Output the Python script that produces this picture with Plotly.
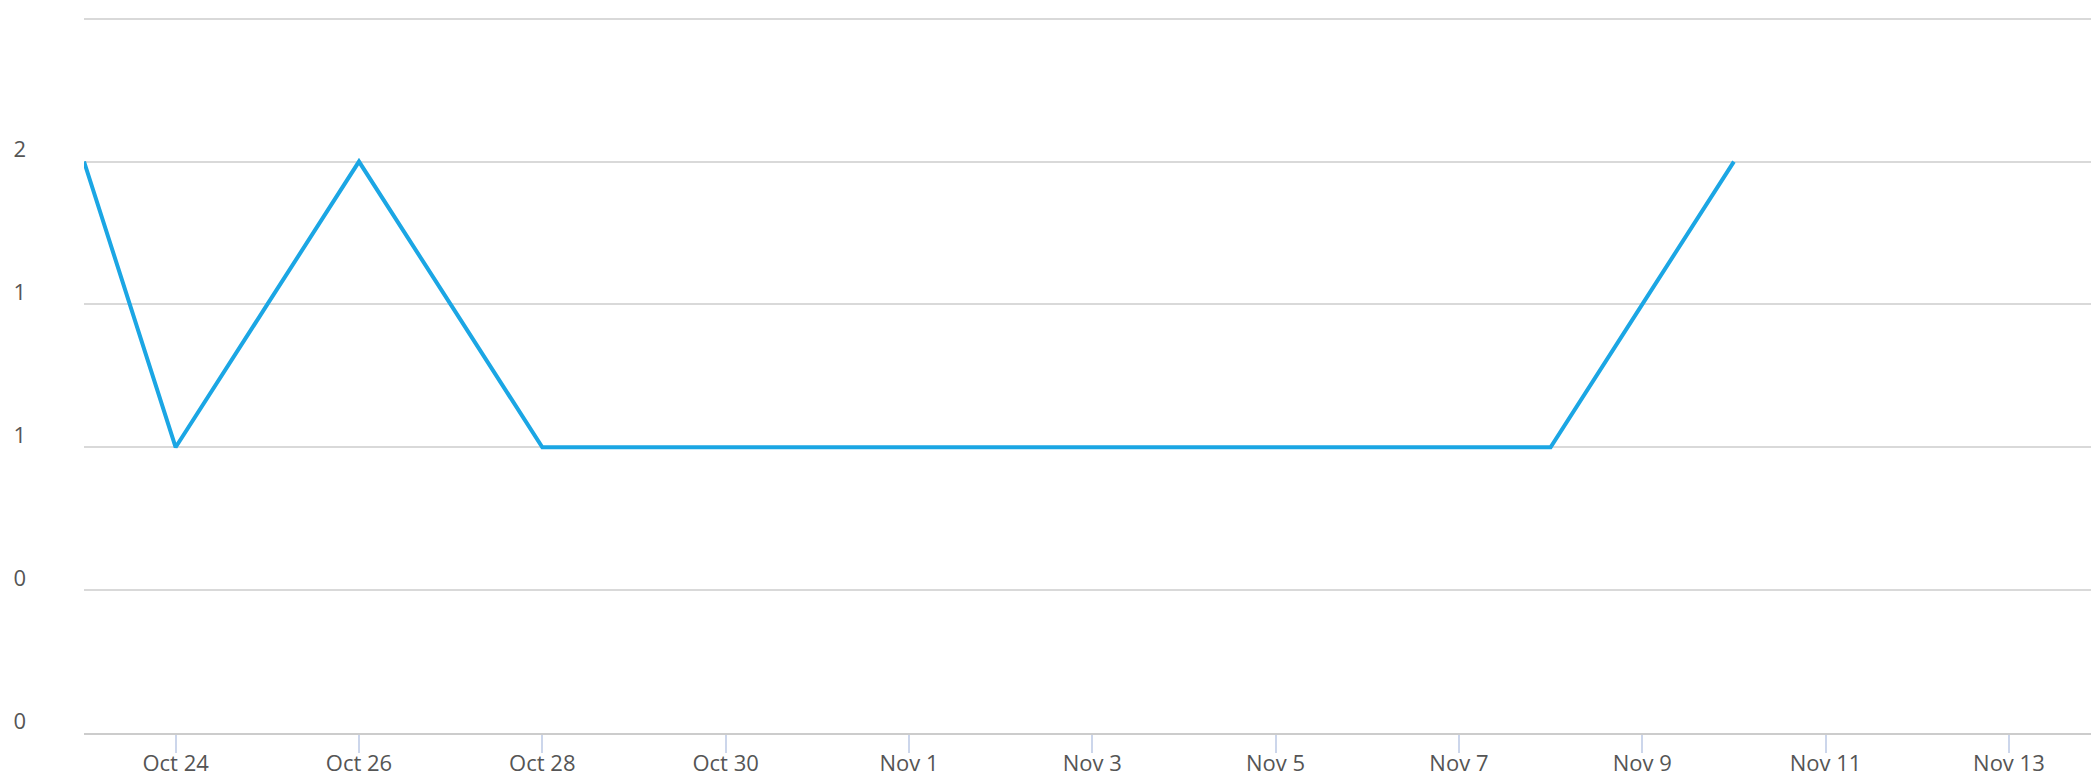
import plotly.graph_objects as go

dates = ["2023-10-23", "2023-10-24", "2023-10-25", "2023-10-26", "2023-10-27",
         "2023-10-28", "2023-10-29", "2023-10-30", "2023-10-31", "2023-11-01",
         "2023-11-02", "2023-11-03", "2023-11-04", "2023-11-05", "2023-11-06",
         "2023-11-07", "2023-11-08", "2023-11-09", "2023-11-10"]
values = [2, 1, 1.5, 2, 1.5, 1, 1, 1, 1, 1, 1, 1, 1, 1, 1, 1, 1, 1.5, 2]

y_tickvals = [0, 0.5, 1, 1.5, 2, 2.5]
y_ticktext = ["0", "0", "1", "1", "2", ""]

fig = go.Figure()
fig.add_trace(go.Scatter(x=dates, y=values, mode="lines",
                         line=dict(color="#1ba6e4", width=4),
                         showlegend=False))

fig.update_layout(
    width=2091, height=777,
    margin=dict(l=84, r=0, t=13, b=42),
    paper_bgcolor="white", plot_bgcolor="white",
    font=dict(family="Open Sans, sans-serif", size=22, color="#555555"),
    showlegend=False,
)
fig.update_xaxes(
    type="date",
    range=["2023-10-23", "2023-11-13 21:30"],
    tick0="2023-10-24", dtick=2 * 86400000,
    tickformat="%b %-d",
    showgrid=False, zeroline=False,
    showline=True, linecolor="#cccccc", linewidth=2,
    ticks="outside", ticklen=18, tickwidth=2, tickcolor="#ccd6eb",
    ticklabelstandoff=-8,
    tickfont=dict(size=22, color="#555555"),
)
fig.update_yaxes(
    range=[0, 2.52],
    tickmode="array", tickvals=y_tickvals, ticktext=y_ticktext,
    showgrid=True, gridcolor="#d9d9d9", gridwidth=2,
    zeroline=False, showline=False,
    ticks="", ticklabelstandoff=57, ticklabelshift=-12,
    tickfont=dict(size=22, color="#555555"),
)

fig.write_html("out.html",
               config={"displayModeBar": False},
               post_script="document.body.style.margin='0';document.body.style.overflow='hidden';")
